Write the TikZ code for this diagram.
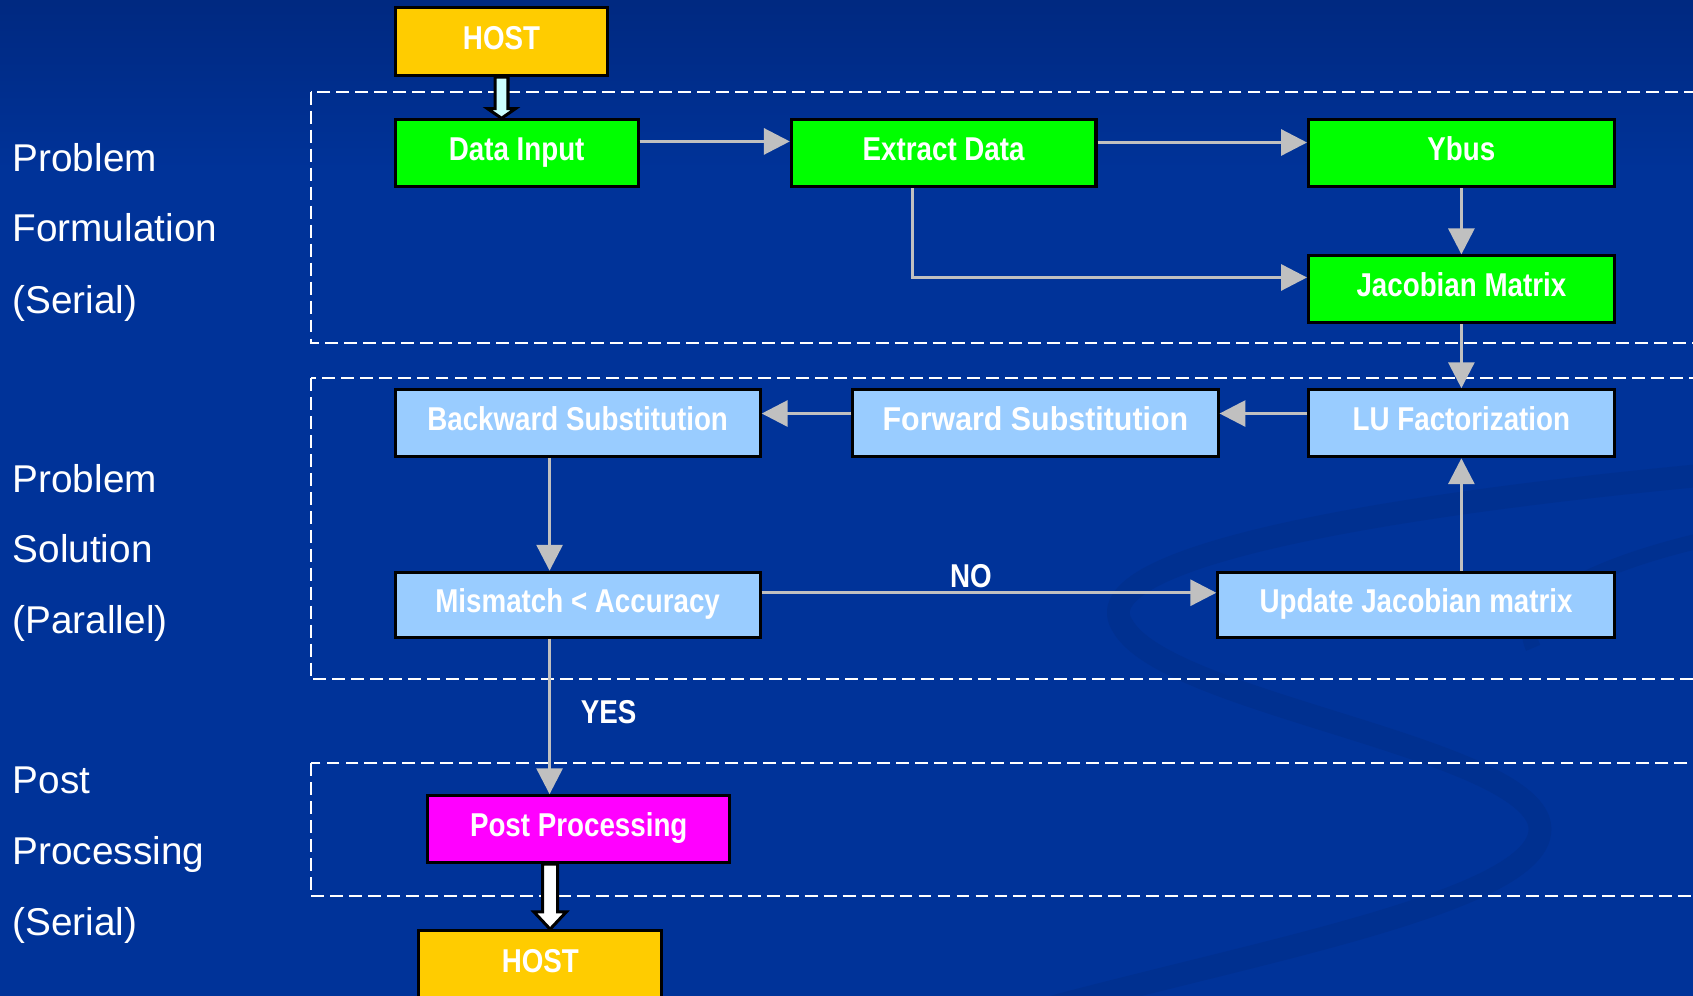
\documentclass[tikz,border=0pt]{standalone}
\usepackage{fontspec}
\setmainfont{Liberation Sans}
\newfontfamily\boxfont[FakeStretch=0.84]{Liberation Sans}
\newfontfamily\wideboxfont[FakeStretch=0.92]{Liberation Sans}
\usetikzlibrary{arrows.meta,calc}

\definecolor{slidebg}{HTML}{003399}
\definecolor{slidetop}{HTML}{00287F}
\definecolor{swooshc}{HTML}{003090}
\definecolor{hostc}{HTML}{FFCC00}
\definecolor{greenc}{HTML}{00FF00}
\definecolor{bluec}{HTML}{99CCFF}
\definecolor{magc}{HTML}{FF00FF}
\definecolor{connc}{HTML}{C0C0C0}
\definecolor{hostarrowc}{HTML}{CCFFFF}

\tikzset{
    box/.style={draw=black, line width=0.8pt, minimum height=0.62cm, inner sep=0pt,
        text height=6.8pt, text depth=2.8pt,
        text=white, font=\boxfont\bfseries\fontsize{8.7}{10}\selectfont},
    hostbox/.style={box, fill=hostc, minimum height=0.63cm},
    greenbox/.style={box, fill=greenc},
    bluebox/.style={box, fill=bluec},
    magbox/.style={box, fill=magc},
    conn/.style={draw=connc, line width=0.85pt, -{Triangle[length=0.24cm, width=0.24cm]}},
    steplabel/.style={text=white, inner sep=1pt, font=\boxfont\bfseries\fontsize{8.7}{10}\selectfont},
    phase/.style={text=white, anchor=base west, inner sep=0pt, font=\fontsize{10.2}{12}\selectfont},
    stage/.style={draw=white, line width=0.6pt, dash pattern=on 3.4pt off 1.6pt}
}

\begin{document}
\begin{tikzpicture}[x=0.01cm, y=-0.01cm]
    \useasboundingbox (0,0) rectangle (1568,922);
    \clip (0,0) rectangle (1568,922);

    % background
    \fill[slidebg] (-10,-10) rectangle (1578,932);
    \shade[top color=slidetop, bottom color=slidebg] (-10,-10) rectangle (1578,160);
    \draw[swooshc, line width=6pt]
        (1600,438) .. controls (1250,470) and (1000,520) .. (1040,580)
        .. controls (1080,650) and (1400,690) .. (1425,760)
        .. controls (1450,840) and (1100,890) .. (880,960);
    \draw[swooshc, line width=4pt]
        (1600,495) .. controls (1480,520) and (1400,560) .. (1420,600);

    % stages
    \draw[stage] (288,85) rectangle (1620,318);
    \draw[stage] (288,350) rectangle (1620,629);
    \draw[stage] (288,707) rectangle (1620,830);

    % phase labels
    \node[phase] (p1a) at (11,159) {Problem};
    \node[phase] (p1b) at (11,224) {Formulation};
    \node[phase] (p1c) at (11,290) {(Serial)};
    \node[phase] (p2a) at (11,456) {Problem};
    \node[phase] (p2b) at (11,521) {Solution};
    \node[phase] (p2c) at (11,587) {(Parallel)};
    \node[phase] (p3a) at (11,735) {Post};
    \node[phase] (p3b) at (11,801) {Processing};
    \node[phase] (p3c) at (11,866) {(Serial)};

    % blocks
    \node[hostbox, minimum width=1.97cm] (hostin) at (464.5,38.5) {HOST};
    \node[greenbox, minimum width=2.25cm] (input) at (478.5,142) {Data Input};
    \node[greenbox, minimum width=2.82cm] (extract) at (874,142) {Extract Data};
    \node[greenbox, minimum width=2.83cm] (ybus) at (1353.5,142) {Ybus};
    \node[greenbox, minimum width=2.83cm] (jacobian) at (1353.5,268) {Jacobian Matrix};

    \node[bluebox, minimum width=3.38cm] (backward) at (535,392) {Backward Substitution};
    \node[bluebox, minimum width=3.38cm, font=\wideboxfont\bfseries\fontsize{8.7}{10}\selectfont]
        (forward) at (959,392) {Forward Substitution};
    \node[bluebox, minimum width=2.83cm] (lu) at (1353.5,392) {LU Factorization};
    \node[bluebox, minimum width=3.38cm, minimum height=0.60cm] (mismatch) at (535,560) {Mismatch < Accuracy};
    \node[bluebox, minimum width=3.67cm, minimum height=0.60cm] (update) at (1311.5,560) {Update Jacobian matrix};

    \node[magbox, minimum width=2.80cm] (post) at (536,768) {Post Processing};
    \node[hostbox, minimum width=2.25cm] (hostout) at (500.5,893.5) {HOST};

    % connectors
    \draw[conn] ($(input.east)+(0,-11)$) -- ($(extract.west)+(0,-11)$);
    \draw[conn] ($(extract.east)+(0,-10)$) -- ($(ybus.west)+(0,-10)$);
    \draw[conn] ($(extract.south)+(-29,0)$) |- ($(jacobian.west)+(0,-11)$);
    \draw[conn] (ybus) -- (jacobian);
    \draw[conn] (jacobian) -- (lu);
    \draw[conn] ($(lu.west)+(0,-9)$) -- ($(forward.east)+(0,-9)$);
    \draw[conn] ($(forward.west)+(0,-9)$) -- ($(backward.east)+(0,-9)$);
    \draw[conn] ($(backward.south)+(-26,0)$) -- ($(mismatch.north)+(-26,0)$);
    \draw[conn] ($(mismatch.east)+(0,-11)$) -- node[steplabel, anchor=south, pos=0.46] (no) {NO}
        ($(update.west)+(0,-11)$);
    \draw[conn] (update.north -| lu.south) -- (lu.south);
    \draw[conn] ($(mismatch.south)+(-26,0)$) coordinate (yesfrom)
        -- node[steplabel, anchor=west, pos=0.47, xshift=0.24cm] (yes) {YES} (yesfrom |- post.north);

    % host arrows
    \draw[line width=0.8pt, fill=hostarrowc] ($(hostin.south)+(-6,0)$)
        -- ($(hostin.south |- input.north)+(-6,-9)$) -- ++(-7,0)
        -- (hostin.south |- input.north) -- ++(13,-9) -- ++(-7,0)
        -- ($(hostin.south)+(6,0)$) -- cycle;
    \draw[line width=0.8pt, fill=white] ($(post.south)+(-33.5,0)$)
        -- ($(post.south |- hostout.north)+(-33.5,-16)$) -- ++(-8,0)
        -- ($(post.south |- hostout.north)+(-26.5,0)$) -- ++(15,-16) -- ++(-8,0)
        -- ($(post.south)+(-19.5,0)$) -- cycle;
\end{tikzpicture}
\end{document}
